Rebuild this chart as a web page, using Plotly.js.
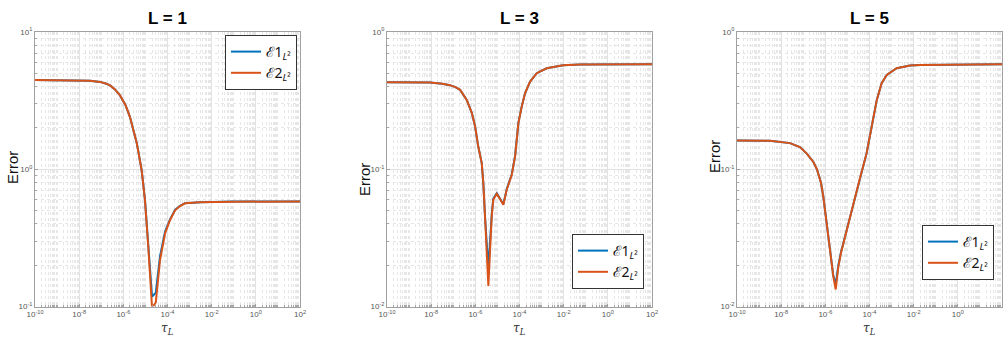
<!DOCTYPE html>
<html><head><meta charset="utf-8">
<script src="https://cdn.plot.ly/plotly-3.0.1.min.js"></script>
<style>html,body{margin:0;padding:0;background:#fff}#plot{width:1003px;height:338px}</style>
</head><body><div id="plot"></div>
<script>
// ---------- data ----------
const panelTitles = ['L = 1', 'L = 3', 'L = 5'];
const seriesNames = ['ℰ1<sub><i>L</i>²</sub>', 'ℰ2<sub><i>L</i>²</sub>'];
const xTickVals = [1e-10, 1e-8, 1e-6, 1e-4, 1e-2, 1e0, 1e2];
const xTickText = ['10<sup>-10</sup>','10<sup>-8</sup>','10<sup>-6</sup>','10<sup>-4</sup>','10<sup>-2</sup>','10<sup>0</sup>','10<sup>2</sup>'];
const y1TickVals = [0.1, 1, 10];
const y1TickText = ['10<sup>-1</sup>','10<sup>0</sup>','10<sup>1</sup>'];
const y23TickVals = [0.01, 0.1, 1];
const y23TickText = ['10<sup>-2</sup>','10<sup>-1</sup>','10<sup>0</sup>'];

// L = 1
const tau1 = [1e-10, 1e-9, 1e-8, 3.16e-8, 8.71e-8, 1.58e-7, 2.51e-7, 4.17e-7, 7.08e-7, 1.26e-6, 2.00e-6, 2.82e-6, 4.07e-6, 6.76e-6, 9.55e-6, 1.35e-5, 2.00e-5, 2.95e-5, 4.57e-5, 7.76e-5, 1.29e-4, 2.19e-4, 3.55e-4, 6.17e-4, 2.95e-3, 1e-1, 1e2];
const e1_L1 = [4.47, 4.47, 4.46, 4.42, 4.33, 4.22, 4.08, 3.82, 3.45, 2.93, 2.40, 1.95, 1.55, 0.984, 0.600, 0.280, 0.118, 0.126, 0.232, 0.352, 0.430, 0.505, 0.540, 0.566, 0.575, 0.581, 0.583];
const e2_L1 = [4.47, 4.47, 4.46, 4.42, 4.33, 4.22, 4.08, 3.82, 3.45, 2.93, 2.40, 1.95, 1.55, 0.984, 0.594, 0.270, 0.098, 0.107, 0.217, 0.341, 0.425, 0.502, 0.537, 0.565, 0.574, 0.580, 0.583];

// L = 3
const tau3 = [1e-10, 8.91e-9, 3.16e-8, 7.08e-8, 1.26e-7, 2.04e-7, 4.07e-7, 6.92e-7, 9.77e-7, 1.35e-6, 1.95e-6, 2.29e-6, 2.75e-6, 3.31e-6, 3.89e-6, 5.50e-6, 6.46e-6, 9.33e-6, 1.86e-5, 2.63e-5, 4.47e-5, 6.31e-5, 8.91e-5, 1.26e-4, 1.78e-4, 3.02e-4, 6.03e-4, 1.70e-3, 9.55e-3, 5.50e-2, 1e2];
const e1_L3 = [0.430, 0.428, 0.420, 0.410, 0.397, 0.379, 0.320, 0.258, 0.205, 0.147, 0.111, 0.080, 0.045, 0.027, 0.019, 0.046, 0.061, 0.0670, 0.0556, 0.0714, 0.092, 0.125, 0.218, 0.287, 0.358, 0.435, 0.501, 0.544, 0.573, 0.580, 0.582];
const e2_L3 = [0.430, 0.428, 0.420, 0.410, 0.397, 0.379, 0.320, 0.258, 0.205, 0.147, 0.111, 0.080, 0.045, 0.026, 0.0141, 0.045, 0.060, 0.0664, 0.0552, 0.0710, 0.091, 0.124, 0.217, 0.286, 0.358, 0.435, 0.501, 0.544, 0.573, 0.580, 0.582];

// L = 5
const tau5 = [1e-10, 3.09e-9, 2.51e-8, 7.08e-8, 1.45e-7, 2.88e-7, 4.17e-7, 6.31e-7, 8.13e-7, 1.15e-6, 1.62e-6, 2.29e-6, 2.95e-6, 3.89e-6, 5.13e-6, 9.33e-6, 1.86e-5, 3.72e-5, 7.41e-5, 1.26e-4, 2.14e-4, 3.55e-4, 6.03e-4, 1.70e-3, 6.92e-3, 1.95e-2, 1e2];
const e1_L5 = [0.162, 0.161, 0.155, 0.145, 0.130, 0.113, 0.100, 0.080, 0.063, 0.040, 0.026, 0.0168, 0.0145, 0.0200, 0.0250, 0.0366, 0.0570, 0.0865, 0.131, 0.205, 0.320, 0.424, 0.487, 0.544, 0.569, 0.575, 0.582];
const e2_L5 = [0.162, 0.161, 0.155, 0.145, 0.130, 0.113, 0.100, 0.080, 0.063, 0.040, 0.026, 0.0166, 0.0133, 0.0196, 0.0246, 0.0363, 0.0568, 0.0863, 0.131, 0.205, 0.320, 0.424, 0.487, 0.544, 0.569, 0.575, 0.582];

// ---------- styling ----------
const BLUE = '#0072BD', ORANGE = '#D95319';
const W = 1003, H = 338;
const px = v => v / W, py = v => 1 - v / H;

const panels = [
  {tau: tau1, e1: e1_L1, e2: e2_L1, x0: 35, x1: 300, yr: [-1, 1], yv: y1TickVals, yt: y1TickText, legend: 'legend', errY: 168},
  {tau: tau3, e1: e1_L3, e2: e2_L3, x0: 387, x1: 652, yr: [-2, 0], yv: y23TickVals, yt: y23TickText, legend: 'legend2', errY: 180},
  {tau: tau5, e1: e1_L5, e2: e2_L5, x0: 737, x1: 1002, yr: [-2, 0], yv: y23TickVals, yt: y23TickText, legend: 'legend3', errY: 157}
];

const traces = [];
const layout = {
  width: W, height: H, margin: {l: 0, r: 0, t: 0, b: 0},
  paper_bgcolor: '#fff', plot_bgcolor: '#fff',
  font: {family: 'Liberation Sans, Arial, sans-serif', color: '#404040'},
  annotations: []
};

const gridMinor = {showgrid: true, gridcolor: '#e6e6e6', griddash: 'dot', gridwidth: 1, ticks: 'inside', ticklen: 2, tickcolor: '#a8a8a8', dtick: 'D1'};

panels.forEach((p, i) => {
  const n = i === 0 ? '' : String(i + 1);
  const xa = 'x' + n, ya = 'y' + n;
  traces.push({x: p.tau, y: p.e1, xaxis: xa, yaxis: ya, type: 'scatter', mode: 'lines', name: seriesNames[0], line: {color: BLUE, width: 2}, legend: p.legend});
  traces.push({x: p.tau, y: p.e2, xaxis: xa, yaxis: ya, type: 'scatter', mode: 'lines', name: seriesNames[1], line: {color: ORANGE, width: 2}, legend: p.legend});

  layout['xaxis' + n] = {
    type: 'log', range: [-10, 2], domain: [px(p.x0), px(p.x1)], anchor: ya,
    tickmode: 'array', tickvals: xTickVals, ticktext: xTickText,
    showline: true, mirror: true, linecolor: '#a0a0a0', linewidth: 1,
    ticks: 'inside', ticklen: 3, tickcolor: '#a0a0a0',
    showgrid: true, gridcolor: '#e2e2e2', gridwidth: 1, zeroline: false,
    tickfont: {size: 8, color: '#555'},
    minor: Object.assign({}, gridMinor)
  };
  layout['yaxis' + n] = {
    type: 'log', range: p.yr, domain: [py(306.5), py(32)], anchor: xa,
    tickmode: 'array', tickvals: p.yv, ticktext: p.yt,
    showline: true, mirror: true, linecolor: '#a0a0a0', linewidth: 1,
    ticks: 'inside', ticklen: 3, tickcolor: '#a0a0a0',
    showgrid: true, gridcolor: '#e2e2e2', gridwidth: 1, zeroline: false,
    tickfont: {size: 8, color: '#555'},
    minor: Object.assign({}, gridMinor)
  };

  const cx = (p.x0 + p.x1) / 2;
  layout.annotations.push({xref: 'paper', yref: 'paper', x: px(cx), y: py(18), text: '<b>' + panelTitles[i] + '</b>', showarrow: false, xanchor: 'center', yanchor: 'middle', font: {size: 17, color: '#000', family: 'Liberation Sans Narrow, Liberation Sans, Arial, sans-serif'}});
  layout.annotations.push({xref: 'paper', yref: 'paper', x: px(cx), y: py(329), text: '<i>τ<sub>L</sub></i>', showarrow: false, xanchor: 'center', yanchor: 'middle', font: {size: 12, color: '#333', family: 'DejaVu Serif, Liberation Serif, serif'}});
  layout.annotations.push({xref: 'paper', yref: 'paper', x: px(p.x0 - 23), y: py(p.errY), text: 'Error', textangle: -90, showarrow: false, xanchor: 'center', yanchor: 'middle', font: {size: 15, color: '#111', family: 'Liberation Sans, Arial, sans-serif'}});
});

const legendBase = {bgcolor: '#fff', bordercolor: '#333', borderwidth: 1, font: {size: 14, color: '#111', family: 'Noto Sans, DejaVu Serif, serif'}, itemwidth: 30, tracegroupgap: 0, orientation: 'v'};
layout.legend = Object.assign({}, legendBase, {x: px(297), y: py(35), xanchor: 'right', yanchor: 'top'});
layout.legend2 = Object.assign({}, legendBase, {x: px(644), y: py(289), xanchor: 'right', yanchor: 'bottom'});
layout.legend3 = Object.assign({}, legendBase, {x: px(994), y: py(280), xanchor: 'right', yanchor: 'bottom'});

Plotly.newPlot('plot', traces, layout, {staticPlot: true, displayModeBar: false});
</script></body></html>
